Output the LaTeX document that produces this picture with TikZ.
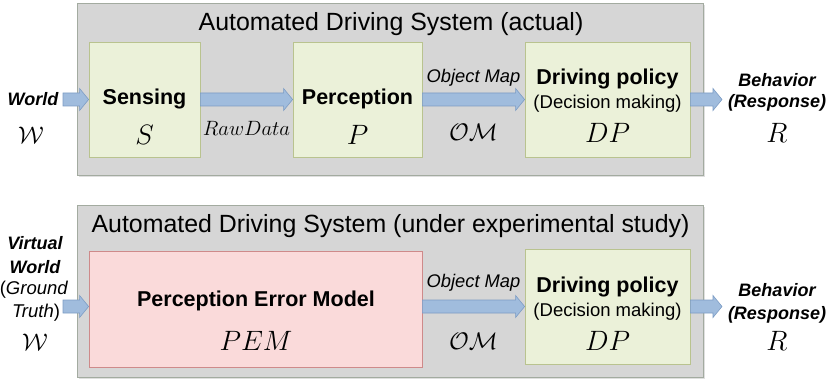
\RequirePackage{fix-cm}
\documentclass[tikz,border=0pt]{standalone}
\usepackage{fontspec}
\setsansfont{Liberation Sans}
\usetikzlibrary{calc,shadows}
\definecolor{sysfill}{HTML}{D6D6D6}
\definecolor{sysdraw}{HTML}{A3ABA0}
\definecolor{grfill}{HTML}{EBF1D9}
\definecolor{grdraw}{HTML}{B9C38F}
\definecolor{pkfill}{HTML}{FADADA}
\definecolor{pkdraw}{HTML}{CE8A8A}
\definecolor{arfill}{HTML}{A0BCDD}
\definecolor{ardraw}{HTML}{7C9CC4}
\newcommand\fatarr[2]{%
  \filldraw[fill=arfill,draw=ardraw,line width=0.6pt] let \p1=#1, \p2=#2 in
    (\x1,\y2-6.5pt) -- (\x2-9pt,\y2-6.5pt) -- (\x2-9pt,\y2-11pt) -- (\x2,\y2)
    -- (\x2-9pt,\y2+11pt) -- (\x2-9pt,\y2+6.5pt) -- (\x1,\y2+6.5pt) -- cycle;}
\tikzset{
  sysbox/.style={draw=sysdraw,fill=sysfill,line width=0.8pt,
    drop shadow={opacity=0.25,shadow xshift=1.5pt,shadow yshift=-2pt},
    minimum width=626pt,minimum height=172pt,inner sep=0pt},
  grbox/.style={draw=grdraw,fill=grfill,line width=0.8pt,inner sep=0pt,minimum height=115pt},
  pkbox/.style={draw=pkdraw,fill=pkfill,line width=0.8pt,inner sep=0pt,minimum height=116pt},
  txt/.style={inner sep=0pt,anchor=center},
  title/.style={txt,font=\sffamily\fontsize{24.9}{28}\selectfont},
  boxhead/.style={txt,font=\sffamily\bfseries\fontsize{21.5}{24}\selectfont},
  sub/.style={txt,font=\sffamily\fontsize{18.5}{20}\selectfont},
  lab/.style={txt,font=\sffamily\itshape\fontsize{18.3}{20}\selectfont},
  io/.style={txt,font=\sffamily\bfseries\itshape\fontsize{18}{20}\selectfont},
  bigm/.style={txt,font=\fontsize{28}{30}\selectfont},
  midm/.style={txt,font=\fontsize{24}{26}\selectfont},
  rawm/.style={txt,font=\fontsize{20.7}{22}\selectfont},
}
\begin{document}
\begin{tikzpicture}[x=1pt,y=-1pt]
\useasboundingbox (0,0) rectangle (830,385);
% ---------- top system ----------
\node[sysbox] (sys1) at (390,89) {};
\node[title] (t1) at (391,24) {Automated Driving System (actual)};
\node[grbox,minimum width=111pt] (s) at (144.5,99.5) {};
\node[grbox,minimum width=129pt] (p) at (357.5,99.5) {};
\node[grbox,minimum width=165pt] (dp1) at (607.5,99.5) {};
\node[boxhead] (sT) at (144.5,99) {Sensing};
\node[bigm] (sM) at (144.5,135) {$S$};
\node[boxhead] (pT) at (357.5,99) {Perception};
\node[bigm] (pM) at (357.5,135) {$P$};
\node[boxhead] (dp1T) at (607.5,79) {Driving policy};
\node[sub] (dp1S) at (607.5,104) {(Decision making)};
\node[bigm] (dp1M) at (607.5,133) {$DP$};
\node[io] (w1) at (33,99) {World};
\node[midm] (w1M) at (31,135) {$\mathcal{W}$};
\coordinate (w1a) at (63,99.5);
\node[rawm] (raw) at (246.5,128) {$RawData$};
\node[lab] (om1) at (473.5,78) {Object Map};
\node[midm] (om1M) at (473.5,132) {$\mathcal{OM}$};
\node[io] (b1) at (777,80) {Behavior};
\node[io] (r1) at (777,103) {(Response)};
\node[bigm] (r1M) at (777,133) {$R$};
\coordinate (r1a) at (722,99.5);
\fatarr{(w1a)}{(s.west)}
\fatarr{(s.east)}{(p.west)}
\fatarr{(p.east)}{(dp1.west)}
\fatarr{(dp1.east)}{(r1a)}
% ---------- bottom system ----------
\node[sysbox] (sys2) at (390,291) {};
\node[title] (t2) at (390.5,226) {Automated Driving System (under experimental study)};
\node[pkbox,minimum width=333pt] (pem) at (255.5,309) {};
\node[grbox,minimum width=165pt] (dp2) at (607.5,306.5) {};
\node[boxhead] (pemT) at (256,301) {Perception Error Model};
\node[bigm] (pemM) at (256,341) {$PEM$};
\node[boxhead] (dp2T) at (607.5,287) {Driving policy};
\node[sub] (dp2S) at (607.5,312) {(Decision making)};
\node[bigm] (dp2M) at (607.5,341) {$DP$};
\node[io] (vw1) at (35,243) {Virtual};
\node[io] (vw2) at (35,267) {World};
\node[sub] (gt1) at (34,290) {(\textit{Ground}};
\node[sub] (gt2) at (36,313) {\textit{Truth})};
\node[midm] (w2M) at (35,342) {$\mathcal{W}$};
\coordinate (w2a) at (63,306.5);
\node[lab] (om2) at (473.5,283) {Object Map};
\node[midm] (om2M) at (473.5,341) {$\mathcal{OM}$};
\node[io] (b2) at (777,290) {Behavior};
\node[io] (r2) at (777,315) {(Response)};
\node[bigm] (r2M) at (777,341) {$R$};
\coordinate (r2a) at (722,306.5);
\fatarr{(w2a)}{(pem.west |- dp2.west)}
\fatarr{(pem.east |- dp2.west)}{(dp2.west)}
\fatarr{(dp2.east)}{(r2a)}
\end{tikzpicture}
\end{document}
